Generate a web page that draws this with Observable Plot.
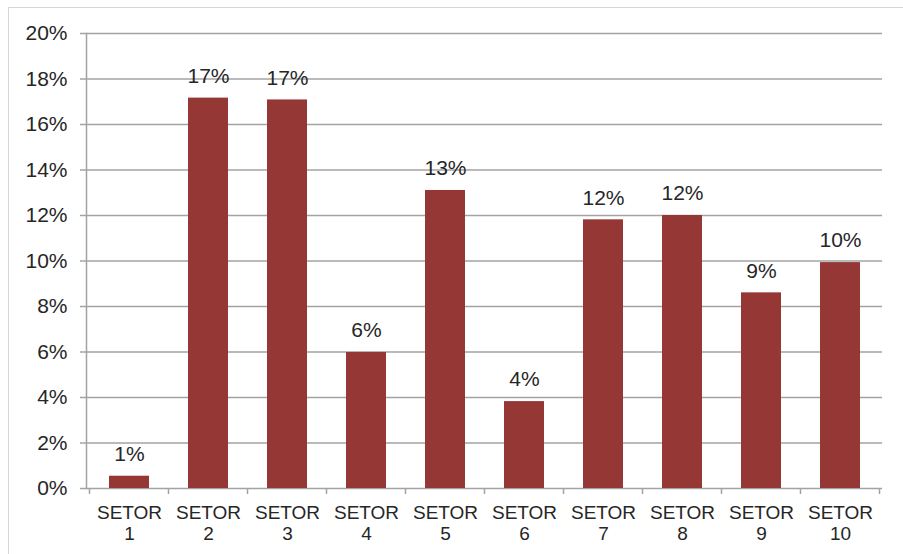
<!DOCTYPE html>
<html><head><meta charset="utf-8">
<script src="https://cdn.jsdelivr.net/npm/d3@7"></script>
<script src="https://cdn.jsdelivr.net/npm/@observablehq/plot@0.6"></script>
<style>
body{margin:0;background:#fff;}
#wrap{position:relative;width:903px;height:554px;overflow:hidden;background:#fff;}
#chart{position:absolute;left:0;top:0;}
#border{position:absolute;left:8px;top:7px;width:1000px;height:1000px;border:1px solid #d6d6d6;box-sizing:border-box;pointer-events:none;}
</style></head><body>
<div id="wrap"><div id="chart"></div><div id="border"></div></div>
<script>
const categories = ["SETOR 1","SETOR 2","SETOR 3","SETOR 4","SETOR 5","SETOR 6","SETOR 7","SETOR 8","SETOR 9","SETOR 10"];
const values = [0.0054, 0.1716, 0.1708, 0.0598, 0.131, 0.0382, 0.1181, 0.12, 0.086, 0.0993];
const valueLabels = ["1%","17%","17%","6%","13%","4%","12%","12%","9%","10%"];
const yTicks = [0, 0.02, 0.04, 0.06, 0.08, 0.10, 0.12, 0.14, 0.16, 0.18, 0.20];

const data = categories.map((c, i) => ({cat: c, value: values[i], label: valueLabels[i]}));

const gridColor = "#a3a3a3";
const font = "'Liberation Sans', Arial, sans-serif";

// boundary tick marks below the x axis (Excel-style, between categories)
const boundaryTicks = (index, scales, values, dimensions) => {
  const x = scales.x;
  const step = x.step ? x.step() : (dimensions.width - dimensions.marginLeft - dimensions.marginRight) / categories.length;
  const bw = x.bandwidth ? x.bandwidth() : 0;
  const y0 = dimensions.height - dimensions.marginBottom;
  const g = document.createElementNS("http://www.w3.org/2000/svg", "g");
  const xs = categories.map(c => x(c) + bw / 2 - step / 2);
  xs.push(x(categories[categories.length - 1]) + bw / 2 + step / 2);
  for (const px of xs) {
    const l = document.createElementNS("http://www.w3.org/2000/svg", "line");
    l.setAttribute("x1", px); l.setAttribute("x2", px);
    l.setAttribute("y1", y0); l.setAttribute("y2", y0 + 6);
    l.setAttribute("stroke", gridColor);
    l.setAttribute("stroke-width", 1.5);
    g.appendChild(l);
  }
  return g;
};

const chart = Plot.plot({
  width: 903,
  height: 554,
  marginTop: 33,
  marginBottom: 66,
  marginLeft: 86,
  marginRight: 21,
  style: {fontFamily: font, fontSize: "19px", color: "#262626", background: "transparent"},
  x: {domain: categories, paddingInner: 0.5, paddingOuter: 0.25, label: null},
  y: {domain: [0, 0.2], label: null},
  marks: [
    Plot.ruleY(yTicks, {stroke: gridColor, strokeWidth: 1.5}),
    Plot.frame({anchor: "left", stroke: gridColor, strokeWidth: 1.5}),
    Plot.axisY({ticks: yTicks, tickFormat: d3.format(".0%"), tickSize: 6, tickPadding: 13, stroke: gridColor, strokeWidth: 1.5, fontSize: 21, fill: "#262626", label: null}),
    Plot.axisX({tickSize: 0, tickPadding: 16, tickFormat: d => d.replace(" ", "\n"), lineHeight: 1.1, fontSize: 19, fill: "#262626", label: null}),
    boundaryTicks,
    Plot.barY(data, {x: "cat", y: "value", fill: "#953735"}),
    Plot.text(data, {x: "cat", y: "value", text: "label", dy: -22, fontSize: 21, fill: "#262626"})
  ]
});
document.getElementById("chart").appendChild(chart);
</script>
</body></html>
